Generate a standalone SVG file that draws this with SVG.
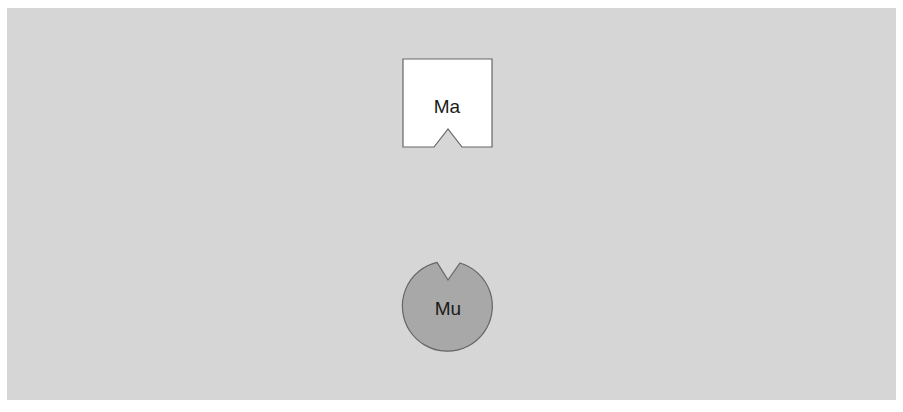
<svg xmlns="http://www.w3.org/2000/svg" width="903" height="412" viewBox="0 0 903 412">
<style>
.lbl{font-family:"Liberation Sans",Arial,sans-serif;font-size:19px;fill:#1a1a1a;text-anchor:middle;dominant-baseline:central}
.shape{stroke:#666;stroke-width:1.2}
</style>
<rect x="0" y="0" width="903" height="412" fill="#ffffff"/>
<rect x="7" y="8" width="889" height="392" fill="#d6d6d6"/>
<g id="connectors"></g>
<g id="node-ma">
<path class="shape" fill="#ffffff" d="M403,59 H492 V147 H462 L448,129 L434,147 H403 Z"/>
<text class="lbl" x="447" y="106">Ma</text>
</g>
<g id="node-mu">
<path class="shape" fill="#a8a8a8" d="M437,262.4 L448,280 L460,263 A45,45 0 1 1 437,262.4 Z"/>
<text class="lbl" x="448" y="308">Mu</text>
</g>
</svg>
